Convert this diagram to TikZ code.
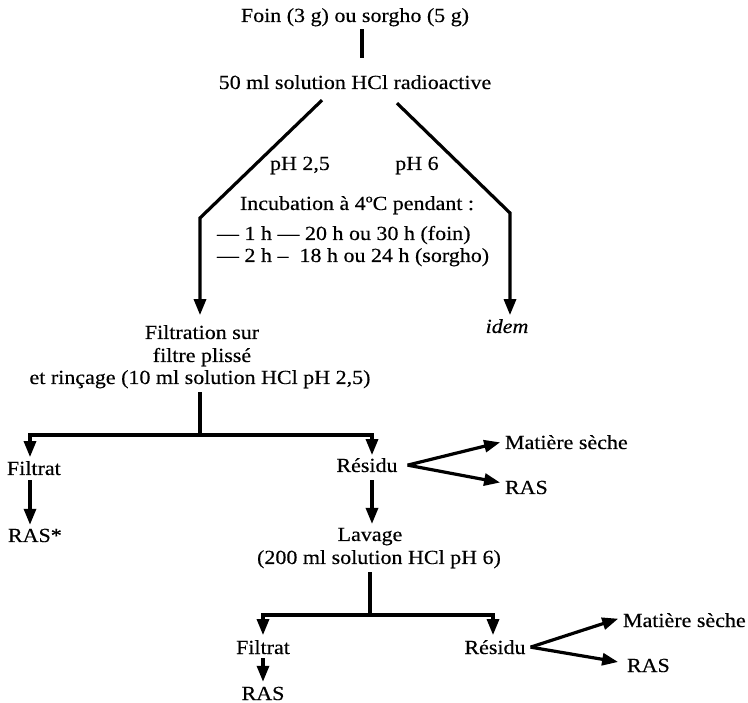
\documentclass[tikz,border=0pt]{standalone}
\usepackage{fontspec}
\setmainfont{Liberation Serif}[FakeStretch=1.1,FakeBold=0.4]
\usetikzlibrary{arrows.meta}
\newcommand\dfont{\fontsize{20}{22}\selectfont}
\tikzset{
  txt/.style={inner sep=0pt, outer sep=0pt, font=\dfont, anchor=base},
  txtw/.style={txt, anchor=base west},
  ln/.style={line width=3.2pt, line join=miter},
  arr/.style={ln, -{Triangle[length=16pt,width=12pt]}}
}
\begin{document}
\begin{tikzpicture}[x=1pt,y=-1pt]
\useasboundingbox (0,0) rectangle (748,703);
% texts
\node[txt] (foin) at (355,22) {Foin (3 g) ou sorgho (5 g)};
\node[txt] (sol) at (355,89) {50 ml solution HCl radioactive};
\node[txt] (ph25) at (300,170) {pH 2,5};
\node[txt] (ph6) at (417,170) {pH 6};
\node[txt] (incub) at (357,210) {Incubation à 4ºC pendant :};
\node[txtw] (d1) at (217,240) {— 1 h — 20 h ou 30 h (foin)};
\node[txtw] (d2) at (217,262) {— 2 h –\ \ 18 h ou 24 h (sorgho)};
\node[txt] (f1) at (202,339) {Filtration sur};
\node[txt] (f2) at (202,362) {filtre plissé};
\node[txt] (f3) at (200,384) {et rinçage (10 ml solution HCl pH 2,5)};
\node[txt] (idem) at (507,333) {\itshape idem};
\node[txtw] (fil1) at (7,475) {Filtrat};
\node[txt] (res1) at (367,472) {Résidu};
\node[txtw] (mat1) at (505,449) {Matière sèche};
\node[txtw] (ras1) at (505,494) {RAS};
\node[txtw] (ras0) at (8,542) {RAS*};
\node[txt] (lav1) at (370,541) {Lavage};
\node[txt] (lav2) at (379,564) {(200 ml solution HCl pH 6)};
\node[txt] (fil2) at (263,654) {Filtrat};
\node[txt] (ras3) at (263,700) {RAS};
\node[txt] (res2) at (495,654) {Résidu};
\node[txtw] (mat2) at (623,627) {Matière sèche};
\node[txtw] (ras2) at (627,672) {RAS};
% junctions
\coordinate (cl) at (200,218);
\coordinate (cr) at (510,213);
\coordinate (b1l) at (30,435);
\coordinate (b1m) at (200,435);
\coordinate (b1r) at (372,435);
\coordinate (b2l) at (263,615);
\coordinate (b2m) at (370,615);
\coordinate (b2r) at (493,615);
% connectors
\draw[ln] ([xshift=7pt,yshift=-3pt]foin.south) -- ([xshift=7pt,yshift=17pt]sol.north);
\draw[arr, shorten >=10pt] ([xshift=-33pt,yshift=-11pt]sol.south) -- (cl) -- (f1.north -| cl);
\draw[arr, shorten >=4pt] ([xshift=42pt,yshift=-14pt]sol.south) -- (cr) -- (idem.north -| cr);
\draw[ln, shorten <=4pt] (f3.south) -- (b1m);
\draw[arr, shorten >=4pt] (b1m) -- (b1l) -- (fil1.north -| b1l);
\draw[arr, shorten >=3pt] (b1m) -- (b1r) -- (res1.north -| b1r);
\draw[arr, shorten <=5pt, shorten >=4pt] (fil1.south -| b1l) -- (ras0.north -| b1l);
\draw[arr, shorten >=5pt] ([xshift=10pt]res1.east) -- ([yshift=1pt]mat1.west);
\draw[arr, shorten >=5pt] ([xshift=10pt]res1.east) -- ([yshift=4pt]ras1.west);
\draw[arr, shorten <=8pt, shorten >=4pt] (res1.south -| b1r) -- (lav1.north -| b1r);
\draw[ln, shorten <=4pt] (lav2.south -| b2m) -- (b2m);
\draw[arr, shorten >=5pt] (b2m) -- (b2l) -- (fil2.north -| b2l);
\draw[arr, shorten >=5pt] (b2m) -- (b2r) -- (res2.north -| b2r);
\draw[arr, shorten <=4pt, shorten >=5pt] (fil2.south) -- (ras3.north);
\draw[arr, shorten >=5pt] ([xshift=5pt]res2.east) -- ([yshift=3pt]mat2.west);
\draw[arr, shorten >=9pt] ([xshift=5pt]res2.east) -- ([yshift=2pt]ras2.west);
\end{tikzpicture}
\end{document}
